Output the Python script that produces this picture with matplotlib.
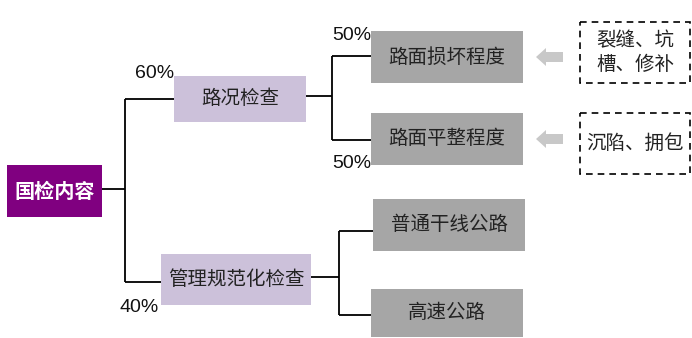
import matplotlib.pyplot as plt
from matplotlib.patches import Rectangle, FancyArrow

plt.rcParams['font.family'] = ['Noto Sans CJK SC', 'DejaVu Sans']

# labels / values
root_label = '国检内容'
level1_labels = ['路况检查', '管理规范化检查']
level1_share = ['60%', '40%']
road_labels = ['路面损坏程度', '路面平整程度']
road_share = ['50%', '50%']
mgmt_labels = ['普通干线公路', '高速公路']
note_labels = ['裂缝、坑\n槽、修补', '沉陷、拥包']

fig = plt.figure(figsize=(6.92, 3.38), dpi=100)
ax = fig.add_axes([0, 0, 1, 1])
ax.set_xlim(0, 692)
ax.set_ylim(338, 0)
ax.axis('off')

def box(x0, y0, x1, y1, text, fc, color='#222222', bold=False, size=14):
    ax.add_patch(Rectangle((x0, y0), x1 - x0, y1 - y0, facecolor=fc, edgecolor='none'))
    ax.text((x0 + x1) / 2, (y0 + y1) / 2, text, ha='center', va='center',
            fontsize=size, color=color, fontweight='bold' if bold else 'normal')

def line(xs, ys):
    ax.plot(xs, ys, color='black', lw=1.3, solid_capstyle='butt')

def pct(x, y, s):
    ax.text(x, y, s, ha='center', va='center', fontsize=14,
            family='Liberation Sans', color='#111111')

# root
box(7, 165, 102, 217, root_label, '#800080', color='white', bold=True, size=14.5)
line([102, 125], [189, 189])
line([125, 125], [99, 282])
line([125, 174], [99, 99])
line([125, 161], [282, 282])

# level 1
box(174, 76, 306, 122, level1_labels[0], '#CCC1DA')
box(161, 254, 311, 305, level1_labels[1], '#CCC1DA')
pct(155, 74, level1_share[0])
pct(139, 307, level1_share[1])

# road condition branch
line([306, 332], [96, 96])
line([332, 332], [56, 140])
line([332, 371], [56, 56])
line([332, 371], [140, 140])
road_y = [(31, 83), (113, 165)]
for (y0, y1), lab in zip(road_y, road_labels):
    box(371, y0, 523, y1, lab, '#A6A6A6')
pct(352, 36, road_share[0])
pct(352, 163, road_share[1])

# notes with arrows
note_y = [(22, 83), (113, 174)]
for (y0, y1), (ry0, ry1), lab in zip(note_y, road_y, note_labels):
    yc = (ry0 + ry1) / 2
    ax.add_patch(FancyArrow(563, yc, -27, 0, width=10, head_width=18, head_length=10,
                            length_includes_head=True, facecolor='#C8C8C8', edgecolor='none'))
    ax.add_patch(Rectangle((580, y0), 110, y1 - y0, facecolor='white', edgecolor='black',
                           lw=1.2, linestyle=(0, (4, 3))))
    ax.text(635, (y0 + y1) / 2, lab, ha='center', va='center', fontsize=14,
            color='#222222', linespacing=1.2)

# management branch
line([311, 339], [277, 277])
line([339, 339], [231, 315])
line([339, 373], [231, 231])
line([339, 371], [315, 315])
box(373, 199, 525, 251, mgmt_labels[0], '#A6A6A6')
box(371, 289, 523, 337, mgmt_labels[1], '#A6A6A6')

fig.savefig('out.png', dpi=100)
